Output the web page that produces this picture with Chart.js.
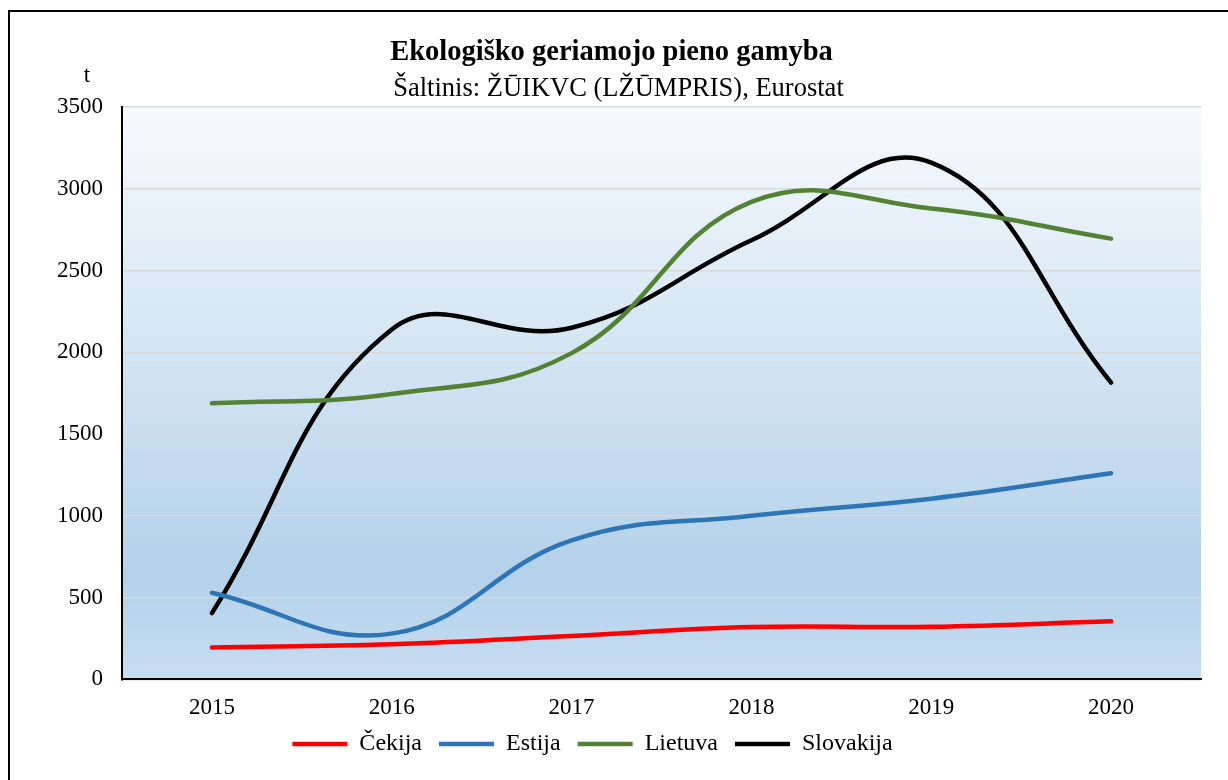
<!DOCTYPE html>
<html>
<head>
<meta charset="utf-8">
<script src="https://cdn.jsdelivr.net/npm/chart.js"></script>
<style>
  html, body { margin: 0; padding: 0; background: #fff; }
  #wrap { width: 1228px; height: 780px; position: relative; }
</style>
</head>
<body>
<div id="wrap"><canvas id="pienas"></canvas></div>
<script>
// Duomenys (t)
const years = ['2015', '2016', '2017', '2018', '2019', '2020'];
const cekija = [195, 215, 265, 320, 322, 355];
const estija = [530, 280, 850, 1000, 1105, 1260];
const lietuva = [1688, 1745, 1995, 2920, 2880, 2695];
const slovakija = [405, 2140, 2150, 2685, 3160, 1815];

const serif = '"Liberation Serif", "Times New Roman", serif';
const titleText = 'Ekologiško geriamojo pieno gamyba';
const subtitleText = 'Šaltinis: ŽŪIKVC (LŽŪMPRIS), Eurostat';

// plot background gradient + outer frame + the "t" unit label
const decor = {
  id: 'decor',
  afterLayout(chart) {
    // nudge title block left and pull the legend up, like the original
    chart.boxes.forEach(b => {
      if (!b.options) return;
      const shift = b.options.text === titleText ? 8 : b.options.text === subtitleText ? 1 : 0;
      b.left -= shift;
      b.right -= shift;
    });
    const lg = chart.legend;
    const dy = lg.top - 715;
    lg.top -= dy;
    lg.bottom -= dy;
    lg.left -= 27;
    lg.right -= 27;
  },
  beforeDraw(chart) {
    const { ctx, chartArea: a } = chart;
    ctx.save();
    ctx.fillStyle = '#ffffff';
    ctx.fillRect(0, 0, chart.width, chart.height);
    const g = ctx.createLinearGradient(0, a.top, 0, a.bottom);
    g.addColorStop(0, '#f7fafd');
    g.addColorStop(0.82, '#b3d1ea');
    g.addColorStop(1, '#c7ddf1');
    ctx.fillStyle = g;
    ctx.fillRect(a.left, a.top, a.right - a.left, a.bottom - a.top);
    ctx.restore();
  },
  afterDraw(chart) {
    const { ctx, chartArea: a } = chart;
    ctx.save();
    ctx.strokeStyle = '#000';
    ctx.lineWidth = 2;
    ctx.strokeRect(9, 11, chart.width + 20, chart.height + 20);
    ctx.fillStyle = '#000';
    ctx.font = '23px ' + serif;
    ctx.textAlign = 'center';
    ctx.textBaseline = 'middle';
    ctx.fillText('t', a.left - 35, a.top - 31);
    ctx.restore();
  }
};

const line = (label, data, color) => ({
  label,
  data,
  borderColor: color,
  backgroundColor: color,
  borderWidth: 4.5,
  borderCapStyle: 'round',
  pointRadius: 0,
  pointHoverRadius: 0,
  tension: 0.42,
  fill: false
});

new Chart(document.getElementById('pienas'), {
  type: 'line',
  data: {
    labels: years,
    datasets: [
      line('Čekija', cekija, '#ff0000'),
      line('Estija', estija, '#2e75b6'),
      line('Lietuva', lietuva, '#548235'),
      line('Slovakija', slovakija, '#000000')
    ]
  },
  plugins: [decor],
  options: {
    responsive: true,
    maintainAspectRatio: false,
    animation: false,
    layout: { padding: { top: 0, left: 38, right: 27, bottom: -8 } },
    scales: {
      x: {
        offset: true,
        grid: { display: false, drawTicks: false },
        border: { color: '#000', width: 2 },
        ticks: { color: '#000', padding: 15, font: { family: serif, size: 23 } }
      },
      y: {
        min: 0,
        max: 3500,
        ticks: {
          stepSize: 500,
          color: '#000',
          padding: 19,
          font: { family: serif, size: 23 },
          callback: v => String(v)
        },
        grid: { color: '#d9d9d9', lineWidth: 1.5, drawTicks: false },
        border: { color: '#000', width: 2 }
      }
    },
    plugins: {
      title: {
        display: true,
        text: titleText,
        color: '#000',
        font: { family: serif, size: 28.5, weight: 'bold' },
        padding: { top: 36, bottom: 0 }
      },
      subtitle: {
        display: true,
        text: subtitleText,
        color: '#000',
        font: { family: serif, size: 26.5 },
        padding: { top: 3, bottom: 2 }
      },
      legend: {
        position: 'bottom',
        labels: {
          color: '#000',
          font: { family: serif, size: 24 },
          usePointStyle: true,
          pointStyle: 'line',
          pointStyleWidth: 55,
          padding: 17
        }
      },
      tooltip: { enabled: false }
    }
  }
});
</script>
</body>
</html>
